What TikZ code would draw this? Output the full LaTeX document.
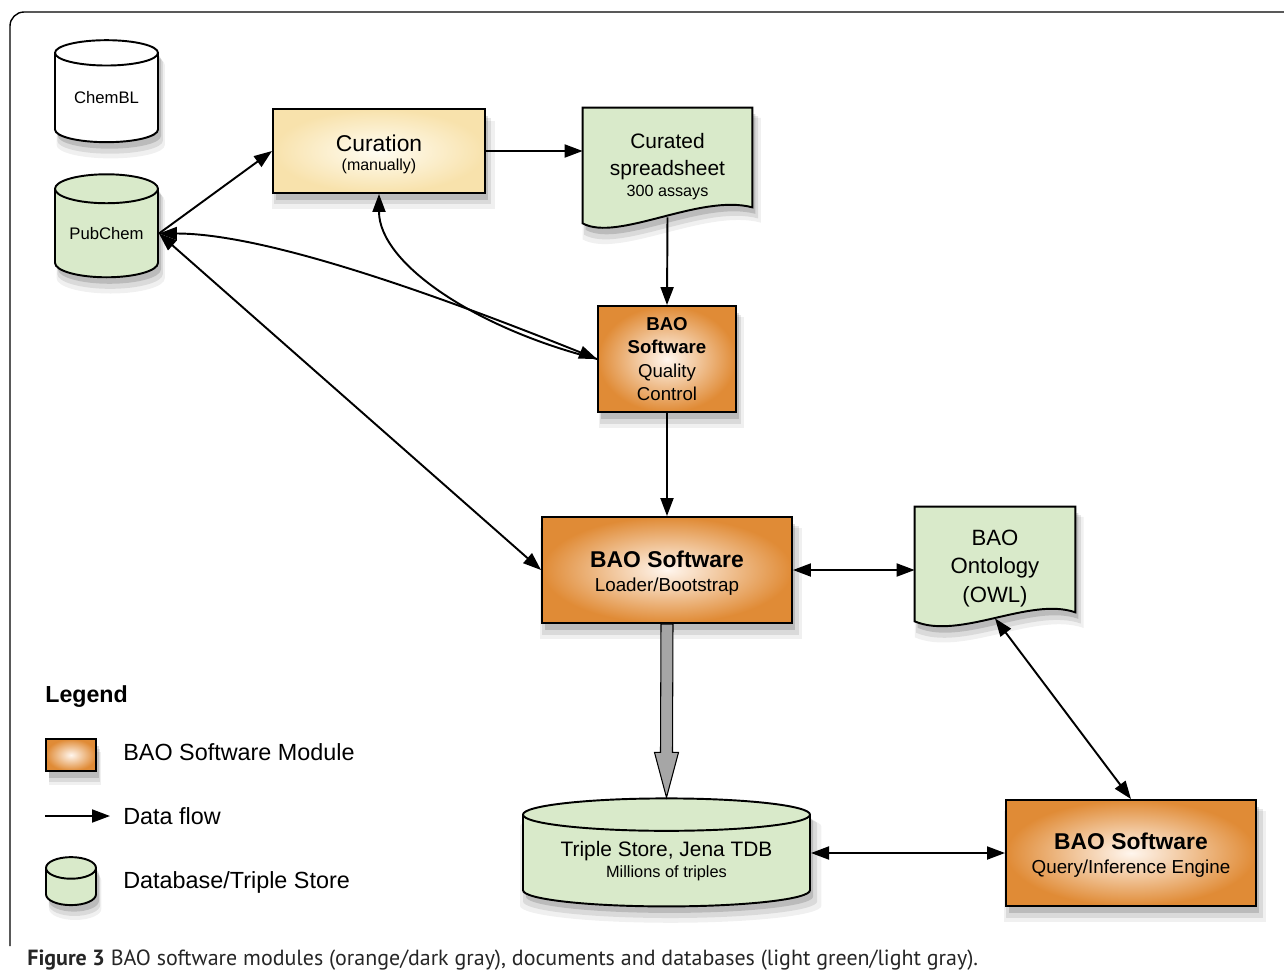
\documentclass[tikz,border=0pt]{standalone}
\usepackage{fontspec}
\setmainfont{Liberation Sans}
\newfontfamily\capfont{PT Sans}
\usetikzlibrary{positioning,shapes.geometric,arrows.meta,calc,shadows,backgrounds}

\definecolor{dbgreen}{HTML}{D9EACA}
\definecolor{orangedark}{HTML}{E08B36}
\definecolor{orangelight}{HTML}{FFF6EE}
\definecolor{creamdark}{HTML}{F8E2AC}
\definecolor{creamlight}{HTML}{FFFDF3}

\begin{document}
\begin{tikzpicture}[x=0.2mm,y=-0.2mm,
	tip/.tip={Triangle[length=3.6mm,width=2.6mm]},
	flow/.style={-tip,line width=1.1pt},
	twoway/.style={tip-tip,line width=1.1pt},
	softshadow/.style={
		general shadow={fill=black,opacity=0.06,shadow xshift=0.8mm,shadow yshift=-2.6mm,shadow scale=1.05},
		general shadow={fill=black,opacity=0.09,shadow xshift=0.7mm,shadow yshift=-2mm,shadow scale=1.025},
		general shadow={fill=black,opacity=0.14,shadow xshift=0.6mm,shadow yshift=-1.3mm}},
	module/.style={draw=black,line width=1.1pt,inner sep=0pt,align=center,
		inner color=orangelight,outer color=orangedark,softshadow},
	dbase/.style={cylinder,shape border rotate=90,draw=black,line width=1.1pt,inner sep=0pt,
		align=center,fill=dbgreen,softshadow},
	docbox/.style={draw=black,line width=1.1pt,fill=dbgreen,softshadow}]

	% Page and frame
	\useasboundingbox (0,0) rectangle (1284,975);
	\draw[line width=0.8pt,rounded corners=8pt] (10,946) -- (10,12) -- (1284,12);

	% Databases
	\node[dbase,fill=white,aspect=0.39,minimum width=20.6mm,minimum height=20.4mm,
		font=\fontsize{9.5}{11}\selectfont] (chembl) at (106.5,98) {ChemBL};
	\node[dbase,aspect=0.39,minimum width=20.6mm,minimum height=20.6mm,
		font=\fontsize{9.5}{11}\selectfont] (pubchem) at (106.5,233.5) {PubChem};
	\node[dbase,aspect=0.153,minimum width=57.4mm,minimum height=21.6mm,
		font=\fontsize{11.9}{11.6}\selectfont] (triple) at (666.5,861)
		{Triple Store, Jena TDB\\{\fontsize{9.3}{11}\selectfont Millions of triples}};

	% Curation
	\node[draw=black,line width=1.1pt,inner sep=0pt,align=center,
		inner color=creamlight,outer color=creamdark,softshadow,
		minimum width=42.4mm,minimum height=16.8mm,font=\fontsize{13}{12}\selectfont]
		(curation) at (379,151) {\rule{0pt}{12.9pt}Curation\\[-1.1pt]{\fontsize{9.1}{11}\selectfont (manually)}};

	% Documents
	\node[inner sep=0pt,align=center,minimum width=33.8mm,minimum height=21.8mm,
		font=\fontsize{11.9}{15.7}\selectfont] (sheet) at (667.5,162.5)
		{\rule{0pt}{13.2pt}Curated\\spreadsheet\\[-3.6pt]{\fontsize{9.2}{11}\selectfont 300 assays}};
	\node[inner sep=0pt,align=center,minimum width=32mm,minimum height=22.2mm,
		font=\fontsize{12.6}{16.2}\selectfont] (onto) at (995,562.5)
		{\rule{0pt}{15.3pt}BAO\\Ontology\\(OWL)};
	\begin{scope}[on background layer]
		\draw[docbox] (sheet.north west) -- (sheet.north east) -- ($(sheet.south east)+(0,-10)$)
			.. controls ($(sheet.south)+(32.5,-24)$) and ($(sheet.south)+(-50,25)$)
			.. ($(sheet.south west)+(0,6)$) -- cycle;
		\draw[docbox] (onto.north west) -- (onto.north east) -- ($(onto.south east)+(0,-6)$)
			.. controls ($(onto.south)+(35,-22)$) and ($(onto.south)+(-35,22)$)
			.. ($(onto.south west)+(0,3)$) -- cycle;
	\end{scope}

	% Software modules
	\node[module,minimum width=27.6mm,minimum height=21.2mm,
		font=\fontsize{10.6}{13.2}\selectfont] (qc) at (667,359)
		{\textbf{BAO}\\\textbf{Software}\\Quality\\Control};
	\node[module,minimum width=50mm,minimum height=21.2mm,
		font=\fontsize{13}{13.6}\selectfont] (loader) at (667,570)
		{\rule{0pt}{13.5pt}\textbf{BAO Software}\\{\fontsize{10.7}{12}\selectfont Loader/Bootstrap}};
	\node[module,minimum width=50mm,minimum height=21.2mm,
		font=\fontsize{13}{13.6}\selectfont] (query) at (1131,853)
		{\rule{0pt}{12.3pt}\textbf{BAO Software}\\{\fontsize{10.7}{12}\selectfont Query/Inference Engine}};

	% Data flow
	\draw[flow] (pubchem.east) -- (curation.west);
	\draw[flow] (curation.east) -- (curation.east -| sheet.west);
	\draw[flow] (sheet.south) -- (qc.north);
	\draw[flow] (qc.south) -- (loader.north);
	\draw[twoway] (qc.west) .. controls +(-150,-60) and +(110,0) .. (pubchem.east);
	\draw[flow] (qc.west) .. controls +(-120,-30) and +(0,70) .. (curation.south);
	\draw[twoway] (pubchem.east) -- (loader.west);
	\draw[twoway] (loader.east) -- (loader.east -| onto.west);
	\draw[twoway] (onto.south) -- (query.north);
	\draw[twoway] (query.west -| triple.east) -- (query.west);

	% Loading into the triple store
	\draw[line width=0.6pt,fill=gray!70] ($(loader.south)+(-6,0)$) -- ($(triple.north)+(-6,-45)$)
		-- ($(triple.north)+(-12,-45)$) -- (triple.north) -- ($(triple.north)+(12,-45)$)
		-- ($(triple.north)+(6,-45)$) -- ($(loader.south)+(6,0)$) -- cycle;

	% Legend
	\node[anchor=west,inner sep=0pt,font=\fontsize{13.2}{14}\selectfont\bfseries] (legend) at (45,697) {Legend};
	\node[module,minimum width=10mm,minimum height=6.4mm] (legmod) at (71,755) {};
	\node[anchor=west,inner sep=0pt,font=\fontsize{13.3}{14}\selectfont] (legmodtxt) at (123,752) {BAO Software Module};
	\coordinate (legfrom) at (45,816);
	\coordinate (legto) at (110,816);
	\draw[flow] (legfrom) -- (legto);
	\node[anchor=west,inner sep=0pt,font=\fontsize{13.3}{14}\selectfont] (legflow) at (123,816) {Data flow};
	\node[dbase,aspect=0.48,minimum width=10mm,minimum height=9.6mm] (legdb) at (71,887) {\hspace*{9mm}};
	\node[anchor=west,inner sep=0pt,font=\fontsize{13.3}{14}\selectfont] (legdbtxt) at (123,882) {Database/Triple Store};

	% Caption
	\node[anchor=west,inner sep=0pt,font=\capfont\fontsize{12.5}{14}\selectfont,text=black!85] (caption) at (27,960)
		{\textbf{Figure 3} BAO software modules (orange/dark gray), documents and databases (light green/light gray).};
\end{tikzpicture}
\end{document}
